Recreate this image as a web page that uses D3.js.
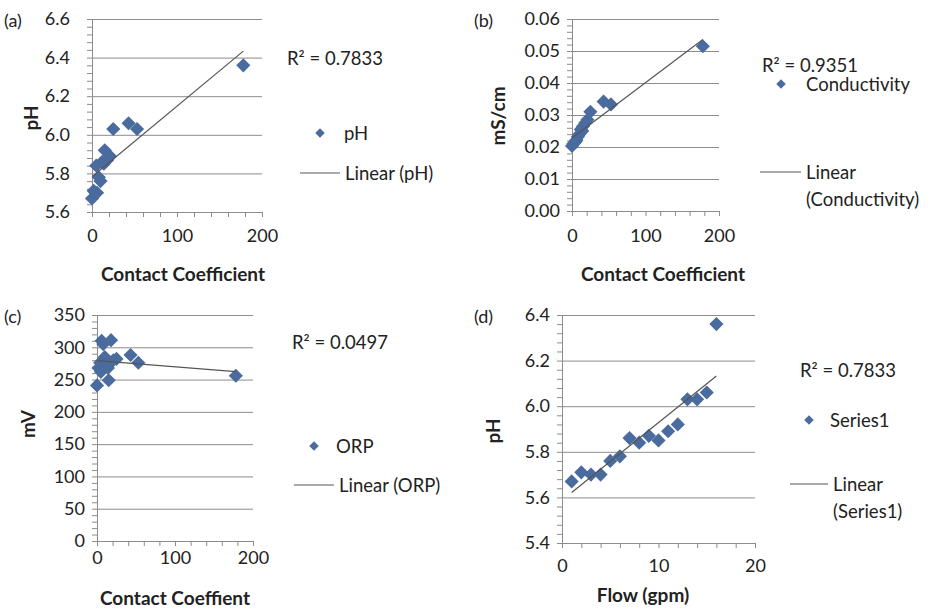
<!DOCTYPE html>
<html>
<head>
<meta charset="utf-8">
<script src="https://cdn.jsdelivr.net/npm/d3@7"></script>
<style>
  body { margin: 0; background: #fff; }
  text { font-family: Lato, "Open Sans", sans-serif; fill: #222; }
</style>
</head>
<body>
<script>
// one row per sample, same order in every array
var flow = [1, 2, 3, 4, 5, 6, 7, 8, 9, 10, 11, 12, 13, 14, 15, 16];
var contactCoef = [0, 2, 4, 6, 10, 8, 12, 5, 18, 14, 21, 15, 25, 53, 43, 178];
var phValues = [5.67, 5.71, 5.70, 5.70, 5.76, 5.78, 5.86, 5.84, 5.87, 5.85, 5.89, 5.92, 6.03, 6.03, 6.06, 6.36];
var conductivity = [0.0203, 0.0210, 0.0215, 0.0222, 0.0240, 0.0232, 0.0255, 0.0218, 0.0275, 0.0250, 0.0285, 0.0265, 0.0310, 0.0333, 0.0342, 0.0515];
var orp = [241, 268, 276, 310, 285, 305, 272, 262, 311, 268, 280, 249, 282, 276, 288, 256];

var phTicks = [5.6, 5.8, 6.0, 6.2, 6.4, 6.6];
var condTicks = [0.00, 0.01, 0.02, 0.03, 0.04, 0.05, 0.06];
var orpTicks = [0, 50, 100, 150, 200, 250, 300, 350];
var phTicksD = [5.4, 5.6, 5.8, 6.0, 6.2, 6.4];
var ccTicks = [0, 100, 200];
var flowTicks = [0, 10, 20];

var r2Labels = ["R² = 0.7833", "R² = 0.9351", "R² = 0.0497", "R² = 0.7833"];

var markerColor = "#4a6b9e";
var gridColor = "#8c8c8c";
var tickFont = 18, titleFont = 19, legendFont = 18.5;

var svg = d3.select("body").append("svg")
    .attr("width", 931)
    .attr("height", 614);

function fit(xs, ys) {
    var mx = d3.mean(xs), my = d3.mean(ys);
    var sxy = d3.sum(xs, function(d, i){ return (d - mx) * (ys[i] - my); });
    var sxx = d3.sum(xs, function(d){ return (d - mx) * (d - mx); });
    var b = sxy / sxx;
    return { b: b, a: my - b * mx };
}

var diamond = d3.symbol().type(d3.symbolSquare);

function drawPanel(p) {
    var x = d3.scaleLinear().domain(p.xDomain).range(p.xRange);
    var y = d3.scaleLinear().domain(p.yDomain).range(p.yRange);
    var w = p.xRange[1] - p.xRange[0];
    var g = svg.append("g");

    // gridlines
    g.append("g")
        .attr("transform", "translate(" + p.xRange[0] + ",0)")
        .call(d3.axisLeft(y).tickValues(p.yTicks).tickSize(-w).tickFormat(""))
        .call(function(s){ s.select(".domain").remove(); })
        .selectAll("line").attr("stroke", gridColor);

    // y axis with minor ticks
    g.append("g")
        .attr("transform", "translate(" + p.xRange[0] + ",0)")
        .call(d3.axisLeft(y).tickValues(d3.range(p.yDomain[0], p.yDomain[1] + p.yMinor / 2, p.yMinor))
            .tickSize(5).tickSizeOuter(0).tickFormat(""))
        .call(function(s){
            s.selectAll("line,path").attr("stroke", gridColor);
        });

    g.append("g")
        .attr("transform", "translate(" + p.xRange[0] + ",0)")
        .call(d3.axisLeft(y).tickValues(p.yTicks).tickSize(0).tickPadding(p.yPad).tickFormat(d3.format(p.fmt)))
        .call(function(s){
            s.select(".domain").remove();
            s.selectAll("text").attr("font-size", tickFont).attr("font-family", "Lato, sans-serif").attr("fill", "#222");
        });

    // x axis
    var x0 = p.yRange[0];
    g.append("g")
        .attr("transform", "translate(0," + x0 + ")")
        .call(d3.axisBottom(x).tickValues(d3.range(p.xDomain[0], p.xDomain[1] + p.xMinor / 2, p.xMinor))
            .tickSize(5).tickSizeOuter(0).tickFormat(""))
        .call(function(s){
            s.selectAll("line,path").attr("stroke", gridColor);
        });

    g.append("g")
        .attr("transform", "translate(0," + x0 + ")")
        .call(d3.axisBottom(x).tickValues(p.xTicks).tickSize(0).tickPadding(p.xPad))
        .call(function(s){
            s.select(".domain").remove();
            s.selectAll("text").attr("font-size", tickFont).attr("font-family", "Lato, sans-serif").attr("fill", "#222");
        });

    // points
    g.selectAll("path.pt")
        .data(p.xs)
        .enter()
        .append("path")
        .attr("class", "pt")
        .attr("d", diamond.size(100))
        .attr("transform", function(d, i){
            return "translate(" + x(d) + "," + y(p.ys[i]) + ") rotate(45)";
        })
        .attr("fill", markerColor);

    // trend line
    var f = fit(p.xs, p.ys);
    var ext = d3.extent(p.xs);
    g.append("line")
        .attr("x1", x(ext[0])).attr("y1", y(f.a + f.b * ext[0]))
        .attr("x2", x(ext[1])).attr("y2", y(f.a + f.b * ext[1]))
        .attr("stroke", "#555")
        .attr("stroke-width", 1.2);

    // titles
    g.append("text")
        .attr("x", p.tag[0]).attr("y", p.tag[1])
        .attr("dominant-baseline", "central")
        .attr("font-size", 18)
        .text(p.label);

    g.append("text")
        .attr("transform", "translate(" + p.yTitle[0] + "," + p.yTitle[1] + ") rotate(-90)")
        .attr("text-anchor", "middle")
        .attr("dominant-baseline", "central")
        .attr("font-size", titleFont)
        .attr("font-weight", "bold")
        .text(p.yName);

    g.append("text")
        .attr("x", p.xTitle[0]).attr("y", p.xTitle[1])
        .attr("text-anchor", "middle")
        .attr("dominant-baseline", "central")
        .attr("font-size", titleFont)
        .attr("font-weight", "bold")
        .text(p.xName);

    // r squared + legend
    g.append("text")
        .attr("x", p.r2[0]).attr("y", p.r2[1])
        .attr("dominant-baseline", "central")
        .attr("font-size", legendFont)
        .text(p.r2Text);

    g.append("path")
        .attr("d", diamond.size(45))
        .attr("transform", "translate(" + p.legMark[0] + "," + p.legMark[1] + ") rotate(45)")
        .attr("fill", markerColor);
    g.append("text")
        .attr("x", p.legMark[2]).attr("y", p.legMark[1])
        .attr("dominant-baseline", "central")
        .attr("font-size", legendFont)
        .text(p.seriesName);

    g.append("line")
        .attr("x1", p.legLine[0]).attr("x2", p.legLine[1])
        .attr("y1", p.legLine[2]).attr("y2", p.legLine[2])
        .attr("stroke", "#555").attr("stroke-width", 1.2);
    p.lineText.forEach(function(t, i){
        g.append("text")
            .attr("x", p.legLine[1] + 5).attr("y", p.legLine[2] + i * 27)
            .attr("dominant-baseline", "central")
            .attr("font-size", legendFont)
            .text(t);
    });
}

drawPanel({
    label: "(a)", tag: [4, 20],
    xs: contactCoef, ys: phValues,
    xDomain: [0, 200], yDomain: [5.6, 6.6],
    xRange: [92, 262], yRange: [212, 19],
    yTicks: phTicks, yMinor: 0.04, xTicks: ccTicks, xMinor: 20,
    fmt: ".1f", yPad: 22, xPad: 17,
    yName: "pH", yTitle: [30, 118],
    xName: "Contact Coefficient", xTitle: [183, 273],
    r2Text: r2Labels[0], r2: [287, 58],
    seriesName: "pH", legMark: [320, 133, 344],
    legLine: [300, 340, 173], lineText: ["Linear (pH)"]
});

drawPanel({
    label: "(b)", tag: [474, 20],
    xs: contactCoef, ys: conductivity,
    xDomain: [0, 200], yDomain: [0, 0.06],
    xRange: [572, 719], yRange: [211, 19],
    yTicks: condTicks, yMinor: 0.002, xTicks: ccTicks, xMinor: 20,
    fmt: ".2f", yPad: 12, xPad: 18,
    yName: "mS/cm", yTitle: [497, 116],
    xName: "Contact Coefficient", xTitle: [663, 273],
    r2Text: r2Labels[1], r2: [762, 65],
    seriesName: "Conductivity", legMark: [781, 84, 806],
    legLine: [760, 801, 172], lineText: ["Linear", "(Conductivity)"]
});

drawPanel({
    label: "(c)", tag: [4, 316],
    xs: contactCoef, ys: orp,
    xDomain: [0, 200], yDomain: [0, 350],
    xRange: [97, 253], yRange: [541, 315],
    yTicks: orpTicks, yMinor: 10, xTicks: ccTicks, xMinor: 20,
    fmt: "d", yPad: 12, xPad: 10,
    yName: "mV", yTitle: [27, 424],
    xName: "Contact Coeffient", xTitle: [175, 597],
    r2Text: r2Labels[2], r2: [292, 342],
    seriesName: "ORP", legMark: [314, 446, 336],
    legLine: [294, 334, 485], lineText: ["Linear (ORP)"]
});

drawPanel({
    label: "(d)", tag: [474, 316],
    xs: flow, ys: phValues,
    xDomain: [0, 20], yDomain: [5.4, 6.4],
    xRange: [562, 755], yRange: [543, 315],
    yTicks: phTicksD, yMinor: 0.04, xTicks: flowTicks, xMinor: 2,
    fmt: ".1f", yPad: 12, xPad: 16,
    yName: "pH", yTitle: [492, 431],
    xName: "Flow (gpm)", xTitle: [643, 594],
    r2Text: r2Labels[3], r2: [800, 370],
    seriesName: "Series1", legMark: [809, 420, 830],
    legLine: [790, 828, 484], lineText: ["Linear", "(Series1)"]
});
</script>
</body>
</html>
